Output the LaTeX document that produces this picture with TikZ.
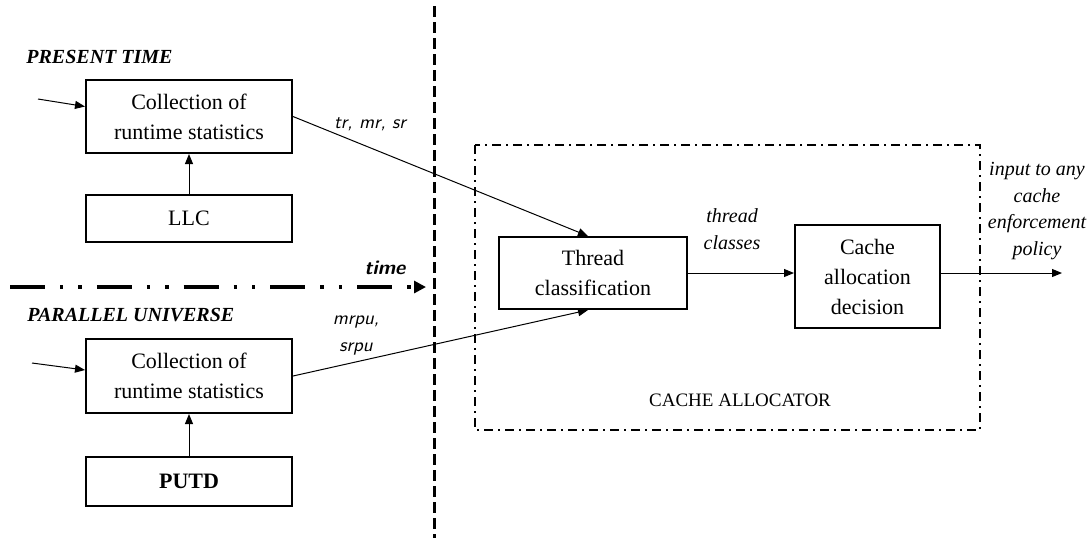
\documentclass[tikz,border=0pt]{standalone}
\usepackage{fontspec}
\setmainfont{Liberation Serif}
\usepackage{tikz}
\usetikzlibrary{arrows.meta,calc}
\tikzset{
  box/.style={
    draw, line width=1pt, align=center, inner sep=2pt,
    font=\fontsize{11}{15}\selectfont
  },
  conn/.style={line width=0.5pt, -{Triangle[length=5pt,width=4pt]}},
  lbl/.style={font=\fontsize{10}{13.2}\selectfont\itshape, align=center},
  slbl/.style={font=\fontsize{9.5}{13.5}\selectfont\sffamily\itshape, align=center},
  zone/.style={font=\fontsize{10}{12}\selectfont\bfseries\itshape, anchor=west, inner sep=0pt},
  frame/.style={line width=1pt, dash pattern=on 4.5pt off 2.5pt on 1pt off 2.5pt}
}

\begin{document}
\begin{tikzpicture}[x=0.5pt, y=-0.5pt]
  \useasboundingbox (0,0) rectangle (1090,538);

  % Present time: runtime statistics from the LLC
  \node[zone] (ptime) at (26,57) {PRESENT TIME};
  \node[box, minimum width=103pt, minimum height=36.5pt] (coll1) at (189,116.5)
    {Collection of\\runtime statistics};
  \node[box, minimum width=103pt, minimum height=23.5pt] (llc) at (189,218.5) {LLC};
  \coordinate (in1) at (38,99);
  \draw[conn] (in1) -- ([yshift=5pt]coll1.west);
  \draw[conn] (llc.north) -- (coll1.south);

  % Parallel universe: statistics from the PUTD
  \node[zone] (puni) at (27,315) {PARALLEL UNIVERSE};
  \node[box, minimum width=103pt, minimum height=37pt] (coll2) at (189,376)
    {Collection of\\runtime statistics};
  \node[box, minimum width=103pt, minimum height=24.5pt, font=\fontsize{11}{15}\selectfont\bfseries]
    (putd) at (189,481.5) {PUTD};
  \coordinate (in2) at (32,363);
  \draw[conn] (in2) -- ([yshift=3pt]coll2.west);
  \draw[conn] (putd.north) -- (coll2.south);

  % Time axis and the separating line
  \coordinate (tstart) at (10,287);
  \coordinate (tend) at (426,287);
  \draw[line width=2pt, dash pattern=on 17.5pt off 7.5pt on 1.7pt off 7.5pt on 1.7pt off 7.5pt,
    -{Triangle[length=6pt,width=6pt]}] (tstart) -- (tend);
  \node[font=\fontsize{10}{12}\selectfont\sffamily\bfseries\itshape] (time) at (385,268) {time};
  \coordinate (vtop) at (434,6);
  \coordinate (vbot) at (434,538);
  \draw[line width=1.5pt, dash pattern=on 5.5pt off 2.5pt] (vtop) -- (vbot);

  % Cache allocator
  \draw[frame] (475,145) rectangle (980,430);
  \node[font=\fontsize{9.5}{12}\selectfont] (alloc) at (740,400) {CACHE ALLOCATOR};
  \node[box, minimum width=94pt, minimum height=36pt] (thread) at (593,273)
    {Thread\\classification};
  \node[box, minimum width=72.5pt, minimum height=51.5pt] (decide) at (867.5,276.5)
    {Cache\\allocation\\decision};
  \coordinate (out) at (1062,273);

  % Data flows
  \draw[conn] (coll1.east) -- ([xshift=-2.5pt]thread.north);
  \draw[conn] (coll2.east) -- ([xshift=-2.5pt]thread.south);
  \draw[conn] (thread.east) -- (thread.east -| decide.west);
  \draw[conn] (decide.east |- thread.east) -- (out);
  \node[slbl] (stats1) at (370,124) {tr, mr, sr};
  \node[slbl] (stats2) at (356,336) {mrpu,\\srpu};
  \node[lbl] (classes) at (732,229) {thread\\classes};
  \node[lbl] (policy) at (1037,211) {input to any\\cache\\enforcement\\policy};

\end{tikzpicture}
\end{document}
